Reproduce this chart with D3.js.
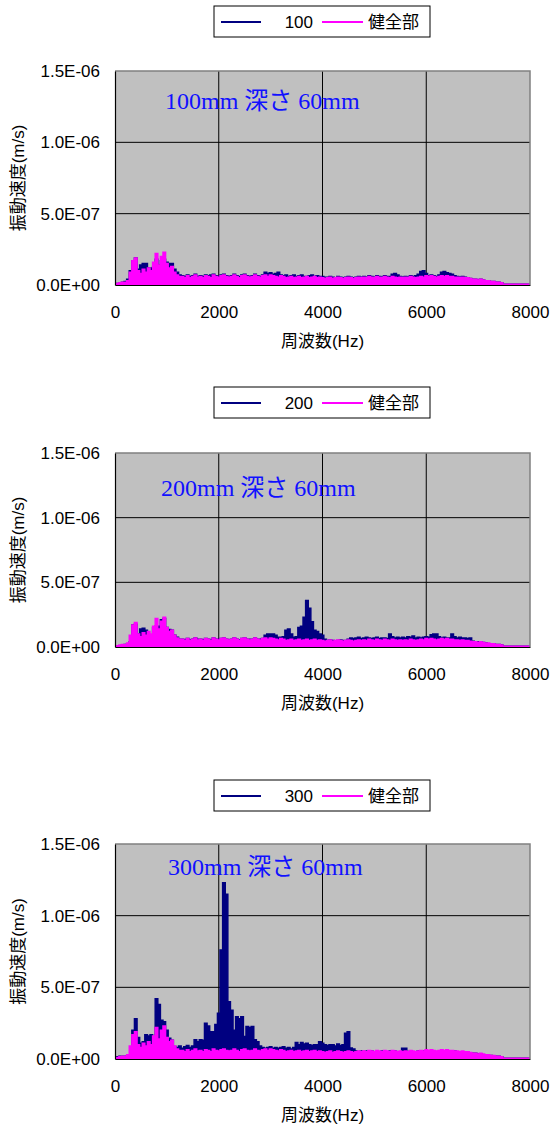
<!DOCTYPE html>
<html>
<head>
<meta charset="utf-8">
<script src="https://cdn.jsdelivr.net/npm/d3@7"></script>
<style>
body { margin: 0; background: #fff; }
text { font-family: "Liberation Sans", Arial, "Noto Sans CJK JP", sans-serif; }
</style>
</head>
<body>
<div id="chart"></div>
<script>
const FREQ_STEP = 50; // Hz between samples, 0..8000
const UNIT = 1e-8;    // amplitudes below are in 1e-8 m/s

const xTicks = [0, 2000, 4000, 6000, 8000];
const yTicks = [0, 5e-7, 1e-6, 1.5e-6];
const yTickLabels = ["0.0E+00", "5.0E-07", "1.0E-06", "1.5E-06"];
const xTitle = "周波数(Hz)";
const yTitle = "振動速度(m/s)";
const healthyName = "健全部";
const positionNames = ["100", "200", "300"];
const notes = ["100mm 深さ 60mm", "200mm 深さ 60mm", "300mm 深さ 60mm"];

const healthy = [
    1, 1, 1.5, 2, 2, 3, 9, 17, 19, 10,
    8, 11, 9, 12, 10, 16, 22, 14, 20, 23,
    15, 12, 13, 9, 7, 6, 6, 5, 6.5, 5,
    6, 7, 5.5, 6, 5, 6.5, 6, 5, 7, 6,
    5.5, 6.5, 7, 6, 5.5, 6, 7, 6, 5, 6.5,
    7, 6, 5.5, 6, 7, 6, 5.5, 6.5, 7, 6,
    7, 6.5, 6, 5.5, 6.5, 6, 5, 5.5, 6, 5,
    5.5, 6, 5, 5.5, 6, 5, 5.5, 6, 5, 5.5,
    5, 4.5, 5, 5.5, 4.5, 5, 5.5, 5, 4.5, 5,
    5.5, 5, 4.5, 5, 5.5, 5, 5.5, 5, 6, 5.5,
    5, 6, 5.5, 5, 6, 5.5, 5, 6, 5.5, 5,
    5.5, 5, 5.5, 5, 6, 5.5, 5, 5.5, 6, 5.5,
    6.5, 6, 6.5, 6, 5.5, 6, 6.5, 6, 6.5, 6,
    6, 5.5, 5.5, 5, 5.5, 5, 5, 4.5, 4, 4,
    3.5, 4, 3.5, 3, 3, 2.5, 2.5, 2, 2, 1.5,
    0.5, 0.5, 0.5, 0.5, 0.5, 0.5, 0.5, 0.5, 0.5, 0.5,
    0.5
];

const damaged100 = [
    1, 1, 1.5, 2, 2.5, 4, 10, 17, 19, 11,
    14, 15, 15, 12, 12, 13, 18, 14, 17, 18,
    16, 15, 15, 11, 9, 7, 6.5, 6, 7, 6,
    6.5, 7.5, 6, 6.5, 6, 7, 6.5, 7, 7.5, 6.5,
    6, 7, 7.5, 6.5, 6, 6.5, 7.5, 6.5, 6, 7,
    7.5, 6.5, 6, 6.5, 7.5, 6.5, 6, 7, 9, 8,
    8.5, 7.5, 8, 9, 7, 6.5, 7, 6, 6.5, 7,
    6, 6.5, 7, 6, 6, 6.5, 7, 6, 6.5, 6,
    6, 5.5, 5.5, 6, 5.5, 5, 6, 5.5, 5, 5.5,
    6, 5.5, 5, 5.5, 6, 5.5, 6, 5.5, 6.5, 6,
    5.5, 6.5, 6, 5.5, 6.5, 6, 6, 7.5, 8, 7,
    6, 5.5, 6, 5.5, 6.5, 6, 6.5, 7.5, 9.5, 10,
    8, 6.5, 7, 6.5, 6, 7, 9, 9.5, 8.5, 8,
    7.5, 6.5, 6, 5.5, 6, 5.5, 5, 4.5, 4, 4,
    3.5, 4, 3.5, 3, 3, 2.5, 2.5, 2, 2, 1.5,
    0.5, 0.5, 0.5, 0.5, 0.5, 0.5, 0.5, 0.5, 0.5, 0.5,
    0.5
];

const damaged200 = [
    1, 1, 1, 1.5, 2, 2.5, 4, 17, 17.5, 10,
    14, 14.5, 13, 8.5, 9, 15, 16, 16, 21, 22,
    15, 13.5, 13, 9, 7.5, 6, 6, 5.5, 6.5, 5.5,
    6, 7, 6, 6, 5.5, 6.5, 6, 5.5, 7, 6,
    6, 6.5, 7, 6, 5.5, 6, 7, 6, 5.5, 6.5,
    7, 6, 6, 6, 7, 6, 6, 6.5, 9, 10,
    10, 10, 9, 7.5, 7.5, 8, 13, 14, 10, 7.5,
    8, 15, 16, 23, 36, 30, 19.5, 13, 12, 10,
    9, 6, 5, 5.5, 5, 4.5, 5, 5.5, 5, 5,
    6, 7, 6.5, 7, 7.5, 6.5, 7, 7.5, 7, 6.5,
    7, 7.5, 6.5, 7, 7, 6.5, 10, 8, 7, 7.5,
    7, 7.5, 7, 8, 7.5, 8.5, 7, 7.5, 7, 7.5,
    8, 7.5, 9.5, 10, 10, 8, 7, 7.5, 7, 7,
    10, 8, 7, 7.5, 7, 7, 6.5, 7, 4.5, 4,
    4, 4, 3.5, 3, 2.5, 2.5, 2.5, 2, 2, 1.5,
    0.5, 0.5, 0.5, 0.5, 0.5, 0.5, 0.5, 0.5, 0.5, 0.5,
    0.5
];

const damaged300 = [
    1.5, 1.5, 2, 2, 2, 2.5, 3, 20, 28, 15,
    11, 12, 17, 16, 17, 14, 42, 38, 27, 26,
    20, 14.5, 13, 8.8, 8, 9, 7.5, 8.5, 9.5, 8,
    9, 13.5, 12, 13.5, 13, 25, 23, 19, 19, 24,
    32, 76, 123, 115, 40, 34, 20, 29.5, 28, 29.5,
    15.7, 22.6, 22, 22.6, 13.5, 12, 9, 8, 7.5, 8,
    8.5, 7.5, 8, 7.5, 8, 8.5, 7.5, 8, 7, 8,
    11.5, 10, 11.5, 10.5, 11, 10, 9.5, 10, 10, 12,
    11, 10, 9.5, 10, 10, 9, 10.5, 9.5, 10, 18,
    19, 7.6, 7, 5.5, 5, 5.5, 5, 5.5, 5, 5.5,
    5, 5.5, 5, 5.5, 5, 5, 5.5, 5, 5.5, 5,
    5, 7.5, 7.5, 5, 5.5, 5, 5, 5.5, 5, 5.5,
    5, 5.5, 5, 5.5, 5, 5, 5.5, 5, 5, 5.5,
    5, 5.5, 5, 5, 5, 4.5, 4.5, 4, 4, 4,
    3.5, 3.5, 3, 3, 2.5, 2.5, 2, 2, 2, 1.5,
    0.5, 0.5, 0.5, 0.5, 0.5, 0.5, 0.5, 0.5, 0.5, 0.5,
    0.5
];

const damagedSeries = [damaged100, damaged200, damaged300];

const width = 550, height = 1129;
const plotLeft = 115, plotRight = 530;

// vertical layout of the three panels
const panels = [
    { legendY: 6,   top: 71,  bottom: 285,  noteX: 165, noteY: 109 },
    { legendY: 387, top: 453, bottom: 647,  noteX: 161, noteY: 496 },
    { legendY: 780, top: 844, bottom: 1059, noteX: 168, noteY: 875 }
];

let svg = d3.select("#chart")
    .append("svg")
    .attr("width", width)
    .attr("height", height);

let x = d3.scaleLinear()
    .domain([0, 8000])
    .range([plotLeft, plotRight]);

function drawPanel(p, i) {
    let y = d3.scaleLinear()
        .domain([0, 1.5e-6])
        .range([p.bottom, p.top]);

    let g = svg.append("g");

    g.append("rect")
        .attr("x", plotLeft)
        .attr("y", p.top)
        .attr("width", plotRight - plotLeft)
        .attr("height", p.bottom - p.top)
        .attr("fill", "#c0c0c0");

    // gridlines
    g.selectAll(".hgrid")
        .data(yTicks.slice(1, -1))
        .enter()
        .append("line")
        .attr("x1", plotLeft)
        .attr("x2", plotRight)
        .attr("y1", function(d) { return y(d); })
        .attr("y2", function(d) { return y(d); })
        .attr("stroke", "#000")
        .attr("stroke-width", 1);

    g.selectAll(".vgrid")
        .data(xTicks.slice(1, -1))
        .enter()
        .append("line")
        .attr("x1", function(d) { return x(d); })
        .attr("x2", function(d) { return x(d); })
        .attr("y1", p.top)
        .attr("y2", p.bottom)
        .attr("stroke", "#000")
        .attr("stroke-width", 1);

    let area = d3.area()
        .curve(d3.curveStep)
        .x(function(d, k) { return x(k * FREQ_STEP); })
        .y0(y(0))
        .y1(function(d) { return y(d * UNIT); });

    let line = d3.line()
        .curve(d3.curveStep)
        .x(function(d, k) { return x(k * FREQ_STEP); })
        .y(function(d) { return y(d * UNIT); });

    // damaged position first, healthy drawn on top
    [[damagedSeries[i], "#000080"], [healthy, "#ff00ff"]].forEach(function(s) {
        g.append("path")
            .datum(s[0])
            .attr("d", area)
            .attr("fill", s[1]);
        g.append("path")
            .datum(s[0])
            .attr("d", line)
            .attr("fill", "none")
            .attr("stroke", s[1])
            .attr("stroke-width", 1.5);
    });

    // frame
    g.append("path")
        .attr("d", `M${plotLeft},${p.top}H${plotRight}V${p.bottom}`)
        .attr("fill", "none")
        .attr("stroke", "#808080")
        .attr("stroke-width", 1.5);

    let yAxis = g.append("g")
        .attr("transform", `translate(${plotLeft}, 0)`)
        .call(d3.axisLeft(y).tickValues(yTicks)
            .tickFormat(function(d, k) { return yTickLabels[k]; })
            .tickSize(0).tickPadding(15));

    let xAxis = g.append("g")
        .attr("transform", `translate(0, ${p.bottom})`)
        .call(d3.axisBottom(x).tickValues(xTicks)
            .tickFormat(d3.format("d"))
            .tickSize(0).tickPadding(21));

    [yAxis, xAxis].forEach(function(a) {
        a.select(".domain").attr("stroke", "#000").attr("stroke-width", 1.2);
        a.selectAll("text")
            .style("font-size", "17px")
            .style("font-family", "'Liberation Sans', Arial, sans-serif")
            .attr("fill", "#000");
    });

    g.append("text")
        .attr("x", (plotLeft + plotRight) / 2)
        .attr("y", p.bottom + 62)
        .style("text-anchor", "middle")
        .style("font-size", "17px")
        .text(xTitle);

    g.append("text")
        .attr("transform", `translate(24, ${(p.top + p.bottom) / 2}) rotate(-90)`)
        .style("text-anchor", "middle")
        .style("font-size", "17px")
        .text(yTitle);

    g.append("text")
        .attr("x", p.noteX)
        .attr("y", p.noteY)
        .style("font-family", "'Liberation Serif', 'Times New Roman', 'Noto Sans CJK JP', serif")
        .style("font-size", "24px")
        .attr("fill", "#1010ff")
        .text(notes[i]);

    // legend
    let lg = g.append("g")
        .attr("transform", `translate(214, ${p.legendY})`);

    lg.append("rect")
        .attr("width", 216)
        .attr("height", 31)
        .attr("fill", "#fff")
        .attr("stroke", "#000")
        .attr("stroke-width", 1);

    lg.append("line")
        .attr("x1", 7).attr("x2", 47)
        .attr("y1", 16).attr("y2", 16)
        .attr("stroke", "#000080")
        .attr("stroke-width", 2);

    lg.append("text")
        .attr("x", 99)
        .attr("y", 22)
        .style("text-anchor", "end")
        .style("font-size", "17px")
        .text(positionNames[i]);

    lg.append("line")
        .attr("x1", 108).attr("x2", 149)
        .attr("y1", 16).attr("y2", 16)
        .attr("stroke", "#ff00ff")
        .attr("stroke-width", 2);

    lg.append("text")
        .attr("x", 154)
        .attr("y", 22)
        .style("font-size", "17px")
        .text(healthyName);
}

panels.forEach(drawPanel);
</script>
</body>
</html>
